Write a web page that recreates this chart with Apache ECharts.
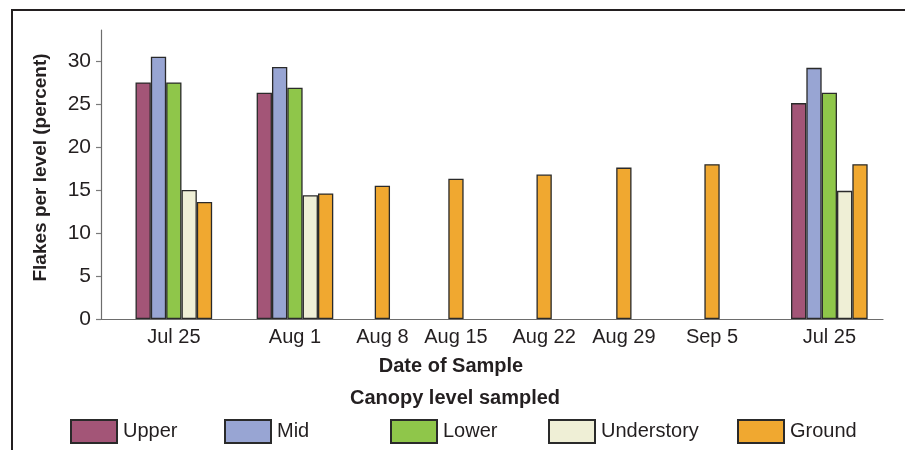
<!DOCTYPE html>
<html>
<head>
<meta charset="utf-8">
<script src="https://cdn.jsdelivr.net/npm/echarts@6/dist/echarts.min.js"></script>
<style>
html,body{margin:0;padding:0;background:#fff;}
#chart{width:905px;height:450px;}
</style>
</head>
<body>
<div id="chart"></div>
<script>
// ---- data ----
const dateLabels = ['Jul 25', 'Aug 1', 'Aug 8', 'Aug 15', 'Aug 22', 'Aug 29', 'Sep 5', 'Jul 25'];
const seriesNames = ['Upper', 'Mid', 'Lower', 'Understory', 'Ground'];
const upper      = [27.5, 26.3, null, null, null, null, null, 25.1];
const mid        = [30.5, 29.3, null, null, null, null, null, 29.2];
const lower      = [27.5, 26.9, null, null, null, null, null, 26.3];
const understory = [15.0, 14.4, null, null, null, null, null, 14.9];
const ground     = [13.6, 14.6, 15.5, 16.3, 16.8, 17.6, 18.0, 18.0];
const yTicks     = [0, 5, 10, 15, 20, 25, 30];

// ---- layout (positions of the date groups along the x axis, in bar-width units) ----
const slotCenters = [4.75, 12.65, 18.35, 23.15, 28.9, 34.1, 39.85, 47.5];
const slotMax = 51;

const colors = ['#a35577', '#98a5d3', '#8fc64a', '#efefd6', '#f0a830'];
const allValues = [upper, mid, lower, understory, ground];

// place the bars of each date side by side around its slot centre
const seriesData = allValues.map(() => []);
dateLabels.forEach((d, j) => {
  const members = [];
  allValues.forEach((arr, i) => { if (arr[j] != null) members.push(i); });
  const n = members.length;
  members.forEach((i, k) => {
    seriesData[i].push([slotCenters[j] + (k - (n - 1) / 2), allValues[i][j]]);
  });
});

const FONT = '"Liberation Sans", Arial, sans-serif';
const TXT = '#231f20';

const chart = echarts.init(document.getElementById('chart'), null, {renderer: 'canvas'});

const legendLefts = [70, 224, 390, 548, 737];

chart.setOption({
  animation: false,
  backgroundColor: '#ffffff',
  textStyle: {fontFamily: FONT, color: TXT},
  grid: {left: 101, right: 22, top: 30, bottom: 131},
  title: [
    {text: 'Date of Sample', left: 451, top: 356, textAlign: 'center', padding: 0,
     textStyle: {fontSize: 20, fontWeight: 'bold', color: TXT, fontFamily: FONT}},
    {text: 'Canopy level sampled', left: 455, top: 388, textAlign: 'center', padding: 0,
     textStyle: {fontSize: 20, fontWeight: 'bold', color: TXT, fontFamily: FONT}}
  ],
  legend: seriesNames.map((name, i) => ({
    data: [name],
    left: legendLefts[i],
    top: 419,
    padding: 0,
    itemWidth: 46,
    itemHeight: 23,
    itemGap: 6,
    icon: 'rect',
    selectedMode: false,
    textStyle: {fontSize: 20, color: TXT, fontFamily: FONT, padding: [9, 0, 0, 1]}
  })),
  xAxis: {
    type: 'value',
    min: 0,
    max: slotMax,
    splitLine: {show: false},
    axisTick: {show: false},
    axisLine: {show: true, lineStyle: {color: '#6d6d6d', width: 1.2}},
    axisLabel: {
      customValues: slotCenters,
      margin: 8,
      fontSize: 20,
      color: TXT,
      fontFamily: FONT,
      formatter: function (v) {
        let best = 0;
        slotCenters.forEach((c, i) => { if (Math.abs(c - v) < Math.abs(slotCenters[best] - v)) best = i; });
        return dateLabels[best];
      }
    }
  },
  yAxis: {
    type: 'value',
    min: 0,
    max: 33.6,
    name: 'Flakes per level (percent)',
    nameLocation: 'middle',
    nameRotate: 90,
    nameGap: 51,
    nameTextStyle: {fontSize: 19, fontWeight: 'bold', color: TXT, fontFamily: FONT, padding: [0, 0, 0, 14]},
    splitLine: {show: false},
    axisLine: {show: true, lineStyle: {color: '#6d6d6d', width: 1.2}},
    axisTick: {show: true, customValues: yTicks, length: 5, inside: false, lineStyle: {color: '#7a7a7a', width: 1.2}},
    axisLabel: {customValues: yTicks, margin: 10, fontSize: 21, color: TXT, fontFamily: FONT}
  },
  series: seriesNames.map((name, i) => ({
    name: name,
    type: 'bar',
    data: seriesData[i],
    barWidth: 15.3,
    barGap: '-100%',
    itemStyle: {color: colors[i], borderColor: '#2a2a2a', borderWidth: 1.3}
  })),
  graphic: [
    {type: 'line', shape: {x1: 11, y1: 10, x2: 905, y2: 10}, style: {stroke: TXT, lineWidth: 2}, silent: true},
    {type: 'line', shape: {x1: 12, y1: 10, x2: 12, y2: 450}, style: {stroke: TXT, lineWidth: 2}, silent: true}
  ]
});
</script>
</body>
</html>
